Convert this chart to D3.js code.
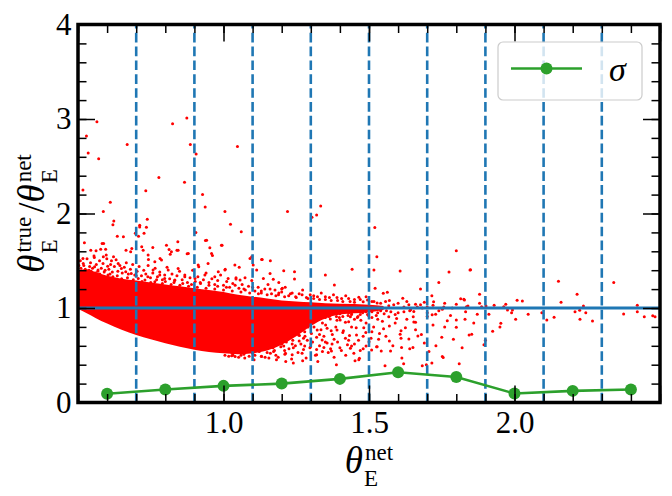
<!DOCTYPE html>
<html><head><meta charset="utf-8">
<script src="https://cdn.jsdelivr.net/npm/d3@7"></script>
<style>body{margin:0;background:#fff}</style>
</head><body>
<svg id="c" width="672" height="496"></svg>
<script>
// ---------------- data ----------------
const xTickValues = [1.0, 1.5, 2.0];
const xTickLabels = ["1.0", "1.5", "2.0"];
const yTickValues = [0, 1, 2, 3, 4];
const yTickLabels = ["0", "1", "2", "3", "4"];
const binEdges = [0.7, 0.9, 1.1, 1.3, 1.5, 1.7, 1.9, 2.1, 2.3];
const sigmaX = [0.6, 0.8, 1.0, 1.2, 1.4, 1.6, 1.8, 2.0, 2.2, 2.4];
const sigmaY = [0.093, 0.137, 0.176, 0.2, 0.25, 0.32, 0.27, 0.095, 0.123, 0.137];
// dense core of the scatter (where the points merge into a solid mass)
const coreTheta = [0.5, 0.53, 0.56, 0.6, 0.65, 0.7, 0.75, 0.8, 0.85, 0.9, 0.95, 1.0, 1.05, 1.1, 1.15, 1.2, 1.25, 1.3, 1.35, 1.4, 1.5, 1.55];
const coreUpper = [1.4, 1.41, 1.38, 1.34, 1.31, 1.29, 1.27, 1.25, 1.23, 1.21, 1.19, 1.17, 1.14, 1.12, 1.1, 1.08, 1.07, 1.06, 1.05, 1.045, 1.035, 1.02];
const coreLower = [0.99, 0.945, 0.895, 0.835, 0.77, 0.715, 0.668, 0.627, 0.59, 0.558, 0.535, 0.52, 0.51, 0.52, 0.55, 0.61, 0.7, 0.81, 0.89, 0.93, 0.955, 0.98];
// individual scattered points [theta_net, theta_true/theta_net]
const scatterPts = [
[0.565,2.97],[0.825,2.95],[0.874,3.01],[0.529,2.82],[0.669,2.73],[0.886,2.73],[1.048,2.71],[0.535,2.64],[0.906,2.63],[0.571,2.58],
[0.778,2.38],[0.866,2.33],[0.517,2.25],[0.733,2.24],[0.928,2.2],[0.611,2.12],[0.937,2.07],[0.587,2.02],[1.005,2.02],[1.22,2.02],
[1.334,2.08],[1.304,1.96],[1.32,1.985],[0.738,1.94],[0.623,1.92],[0.62,1.88],[0.712,1.876],[0.712,1.858],[0.735,1.855],[1.024,1.887],
[0.697,1.79],[0.708,1.76],[0.727,1.79],[1.061,1.806],[0.905,1.8],[0.522,1.69],[0.635,1.76],[0.656,1.753],[0.583,1.683],[0.588,1.683],
[0.578,1.623],[0.595,1.623],[0.544,1.612],[0.562,1.605],[0.685,1.63],[0.681,1.594],[0.665,1.612],[0.719,1.647],[0.757,1.641],[0.804,1.665],
[0.843,1.7],[0.813,1.62],[0.84,1.612],[0.938,1.715],[0.953,1.637],[0.995,1.665],[0.875,1.573],[0.962,1.556],[1.091,1.525],[1.133,1.514],
[1.161,1.5],[0.742,1.514],[0.782,1.525],[0.817,1.57],[0.622,1.542],[0.556,1.535],[0.587,1.542],[1.442,1.409],[1.35,1.348],[1.381,1.243],
[1.207,1.394],[1.244,1.383],[1.054,1.43],[1.006,1.409],[0.915,1.436],[1.102,1.454],[1.171,1.303],[1.202,1.208],[1.074,1.32],[1.043,1.306],
[1.52,1.852],[1.80,1.605],[1.527,1.542],[1.244,1.306],[1.517,1.401],[1.607,1.391],[1.775,1.38],[1.847,1.401],[1.19,1.271],[1.2,1.2],
[1.74,1.271],[1.677,1.2],[1.521,1.208],[1.549,1.155],[1.563,1.166],[1.716,1.13],[1.616,1.102],[1.815,1.098],[1.828,1.084],[1.722,1.067],
[0.597,1.56],[0.615,1.5],[0.638,1.472],[0.649,1.419],[0.569,1.401],[0.534,1.366],[0.664,1.383],[0.603,1.348],[0.683,1.366],[0.724,1.612],
[0.741,1.56],[0.764,1.489],[0.787,1.507],[0.821,1.594],[0.844,1.612],[0.758,1.401],[0.781,1.348],[0.81,1.401],[0.844,1.419],[0.879,1.578],
[0.913,1.454],[0.942,1.718],[0.959,1.578],[0.993,1.665],[0.947,1.472],[0.982,1.383],[1.005,1.401],[1.039,1.454],[1.097,1.542],[1.131,1.514],
[1.16,1.366],[1.114,1.401],[1.137,1.313],[1.057,1.296],[1.016,1.313],[0.97,1.331],[0.936,1.348],[0.902,1.313],[0.867,1.331],[0.833,1.296],
[0.798,1.313],[0.764,1.278],[0.73,1.296],[0.707,1.313],[0.626,1.296],[0.586,1.313],[0.552,1.296],[0.523,1.331],[0.506,1.313],[0.517,1.525],
[0.557,1.436],[0.602,1.443],
[0.51,1.42],[0.52,1.45],[0.54,1.44],[0.545,1.39],[0.56,1.37],[0.575,1.36],[0.59,1.38],[0.61,1.36],[0.62,1.33],[0.635,1.34],
[0.65,1.31],[0.67,1.32],[0.69,1.3],[0.7,1.34],[0.72,1.28],[0.74,1.33],[0.75,1.27],[0.77,1.3],[0.79,1.26],[0.8,1.28],
[0.82,1.25],[0.83,1.27],[0.85,1.24],[0.86,1.26],[0.88,1.23],[0.89,1.25],[0.91,1.22],[0.92,1.27],[0.94,1.21],[0.95,1.24],
[0.97,1.2],[0.98,1.23],[1.0,1.19],[1.01,1.22],[1.03,1.18],[1.04,1.24],[1.06,1.17],[1.07,1.2],[1.09,1.16],[1.1,1.22],
[1.12,1.15],[1.13,1.18],[1.15,1.14],[1.16,1.2],[1.18,1.13],[1.19,1.16],[1.21,1.12],[1.23,1.15],[1.25,1.11],[1.27,1.14],
[1.29,1.1],[1.31,1.13],[1.33,1.09],[1.35,1.12],[1.37,1.08],[1.39,1.11],[1.41,1.07],[1.43,1.1],[1.45,1.06],[1.47,1.09],
[1.49,1.12],[1.51,1.07],[1.54,1.05],[1.57,1.08],[1.6,1.05],[1.63,1.07],[1.66,1.04],[1.69,1.06],[1.72,1.03],[1.76,1.05],
[1.8,1.04],[1.84,1.02],[1.88,1.05],[1.93,1.03],[1.97,1.04],
[0.503,1.45],[0.508,1.5],[0.512,1.39],[0.518,1.47],[0.525,1.41],[0.531,1.52],[0.538,1.4],[0.543,1.48],[0.55,1.42],[0.555,1.55],
[0.563,1.46],[0.568,1.39],[0.574,1.5],[0.58,1.42],[0.586,1.47],[0.593,1.4],[0.599,1.52],[0.606,1.41],[0.612,1.46],[0.618,1.38],
[0.625,1.44],[0.631,1.51],[0.637,1.39],[0.644,1.45],[0.652,1.37],[0.659,1.43],[0.666,1.48],[0.673,1.36],[0.68,1.41],[0.688,1.46],
[0.695,1.35],[0.703,1.39],[0.71,1.44],[0.718,1.34],[0.726,1.4],[0.733,1.36],[0.741,1.45],[0.749,1.32],[0.757,1.37],[0.765,1.42],
[0.773,1.33],[0.781,1.38],[0.79,1.3],[0.798,1.35],[0.806,1.43],[0.815,1.31],[0.823,1.36],[0.832,1.29],[0.84,1.34],[0.849,1.39],
[0.858,1.3],[0.867,1.35],[0.876,1.27],[0.885,1.32],[0.894,1.4],[0.903,1.28],[0.912,1.33],[0.921,1.26],[0.931,1.3],[0.94,1.37],
[0.95,1.27],[0.96,1.31],[0.97,1.25],[0.98,1.29],[0.99,1.35],[1.0,1.24],[1.011,1.28],[1.021,1.22],[1.032,1.26],[1.043,1.32],
[1.053,1.21],[1.064,1.25],[1.075,1.19],[1.086,1.23],[1.097,1.29],[1.108,1.18],[1.119,1.22],[1.13,1.16],[1.142,1.2],[1.153,1.25],
[1.165,1.15],[1.177,1.19],[1.189,1.14],[1.2,1.17],[1.212,1.22],[1.224,1.13],[1.236,1.16],[1.248,1.12],[1.26,1.15],[1.272,1.19],
[1.285,1.11],[1.298,1.14],[1.31,1.1],[1.323,1.12],[1.336,1.16],[1.35,1.09],[1.364,1.11],[1.378,1.14],[1.392,1.08],[1.406,1.1],
[1.42,1.13],[1.435,1.07],[1.45,1.09],[1.465,1.115],[1.48,1.065],[1.495,1.085],
[1.517,1.069],[1.528,1.052],[1.557,1.069],[1.568,1.023],[1.585,1.034],[1.62,1.01],[1.637,1.034],[1.643,0.981],[1.654,0.963],[1.666,1.01],
[1.677,1.034],[1.683,0.999],[1.7,1.01],[1.717,0.928],[1.729,0.935],[1.752,0.988],[1.757,1.01],[1.786,0.999],
[1.8,0.873],[1.8,0.796],[1.769,0.866],[1.844,0.715],[1.637,0.673],[1.668,0.704],[1.607,0.722],[1.568,0.908],[1.652,0.908],[1.654,0.852],
[1.533,0.67],[1.542,0.546],[1.574,0.546],[1.612,0.581],[1.651,0.581],[1.706,0.539],[1.752,0.486],[1.509,0.556],[1.528,0.591],[1.5,0.644],
[1.49,0.599],[1.467,0.469],[1.44,0.599],[1.436,0.574],[1.482,0.792],[1.457,0.715],[1.419,0.68],[1.373,0.62],[1.371,0.546],[1.339,0.662],
[1.345,0.581],[1.32,0.504],[1.299,0.591],[1.279,0.599],[1.275,0.68],[1.236,0.62],[1.207,0.599],[1.213,0.522],[1.236,0.504],[1.172,0.539],
[1.322,0.768],[1.356,0.786],[1.39,0.768],[1.43,0.855],[1.436,0.908],[1.401,0.873],[1.367,0.884],[1.339,0.908],[1.31,0.873],[1.287,0.908],
[1.273,0.786],[1.247,0.803],[1.23,0.838],[1.195,0.768],[1.178,0.82],[1.167,0.715],[1.218,0.715],[1.258,0.715],
[1.028,0.494],[1.04,0.487],[1.073,0.47],[1.105,0.452],[1.131,0.487],[1.156,0.47],[1.182,0.452],[1.214,0.434],[1.24,0.417],[1.272,0.441],
[1.324,0.434],[1.388,0.399],[1.452,0.441],[1.465,0.452],[1.555,0.388],[1.613,0.47],[1.619,0.41],[1.683,0.388],[1.697,0.399],[1.716,0.417],
[1.755,0.476],[1.81,0.41],
[1.02,0.6],[1.03,0.52],[1.04,0.66],[1.05,0.58],[1.06,0.5],[1.07,0.63],[1.08,0.55],[1.09,0.7],[1.1,0.52],[1.11,0.64],
[1.11,0.57],[1.12,0.75],[1.13,0.49],[1.13,0.68],[1.14,0.6],[1.15,0.53],[1.15,0.74],[1.16,0.64],[1.17,0.58],[1.18,0.5],
[1.18,0.7],[1.19,0.82],[1.2,0.62],[1.21,0.76],[1.21,0.55],[1.22,0.68],[1.23,0.86],[1.24,0.58],[1.25,0.74],[1.26,0.65],
[1.26,0.84],[1.27,0.52],[1.28,0.7],[1.29,0.8],[1.3,0.62],[1.31,0.9],[1.32,0.56],[1.33,0.72],[1.34,0.84],[1.35,0.64],
[1.36,0.53],[1.37,0.76],[1.38,0.67],[1.39,0.87],[1.4,0.58],[1.41,0.74],[1.42,0.5],[1.43,0.66],[1.44,0.8],[1.45,0.62],
[1.46,0.9],[1.47,0.55],[1.48,0.7],[1.49,0.84],[1.51,0.75],[1.53,0.88],[1.55,0.78],[1.57,0.65],[1.59,0.84],[1.61,0.76],
[1.63,0.88],[1.66,0.77],[1.69,0.63],[1.72,0.82],[1.75,0.69],[1.78,0.92],[1.82,0.58],[1.86,0.84],[1.9,0.66],[1.95,0.8],
[1.005,0.5],[1.012,0.55],[1.018,0.49],[1.025,0.57],[1.033,0.5],[1.038,0.54],[1.045,0.61],[1.052,0.48],[1.058,0.53],[1.064,0.59],
[1.07,0.51],[1.076,0.56],[1.082,0.65],[1.088,0.49],[1.094,0.6],[1.099,0.55],[1.104,0.67],[1.108,0.5],[1.115,0.59],[1.119,0.71],
[1.123,0.54],[1.128,0.63],[1.134,0.57],[1.138,0.72],[1.143,0.48],[1.147,0.66],[1.152,0.6],[1.157,0.77],[1.161,0.52],[1.166,0.69],
[1.171,0.62],[1.175,0.55],[1.179,0.79],[1.184,0.66],[1.188,0.48],[1.193,0.73],[1.197,0.59],[1.202,0.69],[1.206,0.83],[1.211,0.51],
[1.216,0.64],[1.221,0.78],[1.225,0.57],[1.229,0.72],[1.234,0.46],[1.238,0.66],[1.243,0.86],[1.247,0.6],[1.252,0.79],[1.256,0.53],
[1.261,0.71],[1.266,0.62],[1.27,0.88],[1.275,0.56],[1.279,0.75],[1.284,0.47],[1.288,0.66],[1.293,0.85],[1.297,0.58],[1.302,0.73],
[1.306,0.64],[1.311,0.8],[1.316,0.5],[1.32,0.69],[1.325,0.89],[1.33,0.6],[1.335,0.77],[1.34,0.54],[1.345,0.7],[1.351,0.82],
[1.356,0.63],[1.362,0.91],[1.368,0.57],[1.374,0.72],[1.38,0.48],[1.386,0.8],[1.392,0.64],[1.398,0.9],[1.405,0.55],[1.412,0.76],
[1.419,0.85],[1.426,0.61],[1.433,0.71],[1.44,0.93],[1.448,0.52],[1.456,0.79],[1.464,0.66],[1.472,0.87],[1.48,0.57],[1.489,0.74],
[1.498,0.92],[1.507,0.68],[1.516,0.8],[1.526,0.59],[1.536,0.73],[1.546,0.86],[1.558,0.7],[1.57,0.81],[1.582,0.6],[1.595,0.89],
[1.61,0.68],[1.625,0.79],[1.64,0.57],[1.66,0.85],[1.68,0.72],[1.7,0.91],[1.73,0.6],[1.76,0.8],[1.79,0.67],[1.83,0.88],
[1.31,0.93],[1.33,0.96],[1.35,0.9],[1.37,0.94],[1.39,0.97],[1.41,0.91],[1.43,0.95],[1.45,0.88],[1.47,0.93],[1.49,0.96],
[1.51,0.9],[1.53,0.95],[1.56,0.97],[1.59,0.93],[1.62,0.96],
[1.305,0.91],[1.318,0.95],[1.328,0.92],[1.342,0.94],[1.355,0.96],[1.366,0.92],[1.378,0.95],[1.388,0.91],[1.4,0.94],[1.415,0.96],
[1.428,0.92],[1.44,0.95],[1.452,0.97],[1.462,0.91],[1.478,0.95],[1.495,0.93],[1.51,0.96],[1.525,0.92],[1.54,0.97],[1.552,0.94],
[1.575,0.96],[1.6,0.95],[1.64,0.97],[1.7,0.95],[1.74,0.97],
[1.849,1.404],[2.151,1.282],[2.341,1.271],[1.88,1.145],[1.826,1.092],[2.009,1.081],[2.027,1.074],[2.16,1.06],[2.215,1.145],[1.835,1.014],
[1.887,1.014],[1.902,1.021],[1.963,1.014],[2.237,1.021],[2.422,1.028],[1.832,0.961],[1.872,0.933],[1.912,0.933],[1.976,0.979],[1.993,0.979],
[1.99,0.951],[2.047,0.933],[2.094,0.951],[2.111,0.873],[2.136,0.902],[2.208,0.961],[2.224,0.976],[2.245,0.951],[2.225,0.881],[2.268,0.863],
[2.375,0.937],[2.422,0.961],[2.446,0.908],[2.475,0.919],[2.483,0.908],[2.004,0.881],[1.953,0.838],[1.925,0.754],[1.853,0.722],[1.895,0.612]
];

// ---------------- layout ----------------
const L = 78, R = 660, T = 24.5, B = 402.5;
const serif = "'Liberation Serif','DejaVu Serif',serif";
const svg = d3.select("#c");
const x = d3.scaleLinear().domain([0.5, 2.5]).range([L, R]);
const y = d3.scaleLinear().domain([0, 4]).range([B, T]);

svg.append("defs").append("clipPath").attr("id", "clip")
  .append("rect").attr("x", L).attr("y", T).attr("width", R - L).attr("height", B - T);
const plot = svg.append("g").attr("clip-path", "url(#clip)");

// core mass
const core = coreTheta.map((t, i) => [t, coreUpper[i], coreLower[i]]);
plot.append("path").datum(core)
  .attr("d", d3.area().x(d => x(d[0])).y0(d => y(d[2])).y1(d => y(d[1])).curve(d3.curveMonotoneX))
  .attr("fill", "#ff0000");
// points
plot.append("g").selectAll("circle").data(scatterPts).join("circle")
  .attr("cx", d => x(d[0])).attr("cy", d => y(d[1])).attr("r", 1.5).attr("fill", "#ff0000");

// y = 1 line
plot.append("line").attr("x1", x(0.5)).attr("x2", x(2.5)).attr("y1", y(1)).attr("y2", y(1))
  .attr("stroke", "#1f77b4").attr("stroke-width", 2.8);
// bin edges
plot.append("g").selectAll("path").data(binEdges).join("path")
  .attr("d", d => `M${x(d)},${y(0)}L${x(d)},${y(4)}`)
  .attr("stroke", "#1f77b4").attr("stroke-width", 2.6).attr("fill", "none")
  .attr("stroke-dasharray", "9.67,4.18");

// sigma
const sig = sigmaX.map((v, i) => [v, sigmaY[i]]);
plot.append("path").datum(sig).attr("d", d3.line().x(d => x(d[0])).y(d => y(d[1])))
  .attr("fill", "none").attr("stroke", "#2ca02c").attr("stroke-width", 2.6);
plot.append("g").selectAll("circle").data(sig).join("circle")
  .attr("cx", d => x(d[0])).attr("cy", d => y(d[1])).attr("r", 6).attr("fill", "#2ca02c");

// ---------------- axes ----------------
const minorX = d3.range(0.5, 2.5001, 0.1).map(v => +v.toFixed(2));
const minorY = d3.range(0, 4.0001, 0.2).map(v => +v.toFixed(2));
const majorX = [0.5, ...xTickValues, 2.5];
function styleAxis(g) {
  g.select(".domain").remove();
  g.selectAll(".tick line").attr("stroke", "#000").attr("stroke-width", 1.5);
  g.selectAll("text").attr("font-family", serif).attr("font-size", 31).attr("fill", "#000");
}
const xfmt = d => { const i = xTickValues.indexOf(d); return i >= 0 ? xTickLabels[i] : ""; };
const yfmt = d => { const i = yTickValues.indexOf(d); return i >= 0 ? yTickLabels[i] : ""; };
svg.append("g").attr("transform", `translate(0,${B})`).call(d3.axisBottom(x).tickValues(minorX).tickSize(-8.5).tickFormat("")).call(styleAxis);
svg.append("g").attr("transform", `translate(0,${T})`).call(d3.axisTop(x).tickValues(minorX).tickSize(-8.5).tickFormat("")).call(styleAxis);
svg.append("g").attr("transform", `translate(${L},0)`).call(d3.axisLeft(y).tickValues(minorY).tickSize(-8.5).tickFormat("")).call(styleAxis);
svg.append("g").attr("transform", `translate(${R},0)`).call(d3.axisRight(y).tickValues(minorY).tickSize(-8.5).tickFormat("")).call(styleAxis);
svg.append("g").attr("transform", `translate(0,${B})`).call(d3.axisBottom(x).tickValues(majorX).tickSize(-17).tickPadding(8).tickFormat(xfmt)).call(styleAxis);
svg.append("g").attr("transform", `translate(0,${T})`).call(d3.axisTop(x).tickValues(majorX).tickSize(-17).tickFormat("")).call(styleAxis);
svg.append("g").attr("transform", `translate(${L},0)`).call(d3.axisLeft(y).tickValues(yTickValues).tickSize(-17).tickPadding(6.5).tickFormat(yfmt)).call(styleAxis);
svg.append("g").attr("transform", `translate(${R},0)`).call(d3.axisRight(y).tickValues(yTickValues).tickSize(-17).tickFormat("")).call(styleAxis);

// frame
svg.append("rect").attr("x", L).attr("y", T).attr("width", R - L).attr("height", B - T)
  .attr("fill", "none").attr("stroke", "#000").attr("stroke-width", 3.5);

// ---------------- math labels ----------------
function mathLabel(g, tokens) {
  const big = 37, small = 23;
  let cx = 0;
  tokens.forEach(tk => {
    if (tk.base) {
      const t = g.append("text").attr("x", cx).attr("y", 0).attr("font-family", serif)
        .attr("font-style", "italic").attr("font-size", big).text(tk.base);
      cx += t.node().getComputedTextLength() + 1;
      const s1 = g.append("text").attr("x", cx + 1).attr("y", -13.5).attr("font-family", serif)
        .attr("font-size", small).text(tk.sup);
      const s2 = g.append("text").attr("x", cx).attr("y", 12.5).attr("font-family", serif)
        .attr("font-size", small).text(tk.sub);
      cx += Math.max(s1.node().getComputedTextLength() + 1, s2.node().getComputedTextLength()) + (tk.gap || 0);
    } else {
      const t = g.append("text").attr("x", cx).attr("y", 0).attr("font-family", serif)
        .attr("font-size", big).text(tk.text);
      cx += t.node().getComputedTextLength();
    }
  });
  return cx;
}
const xl = svg.append("g");
const xw = mathLabel(xl, [{ base: "θ", sub: "E", sup: "net" }]);
xl.attr("transform", `translate(${(L + R) / 2 - xw / 2},473)`);
const yl0 = svg.append("g");
const yl = yl0.append("g");
const yw = mathLabel(yl, [{ base: "θ", sub: "E", sup: "true", gap: 4 }, { text: "/" }, { base: "θ", sub: "E", sup: "net" }]);
yl.attr("transform", `translate(${-yw / 2},0)`);
yl0.attr("transform", `translate(44,${(T + B) / 2}) rotate(-90)`);

// ---------------- legend ----------------
const lg = svg.append("g");
lg.append("rect").attr("x", 498).attr("y", 42).attr("width", 144).attr("height", 58).attr("rx", 5)
  .attr("fill", "#fff").attr("fill-opacity", 0.8).attr("stroke", "#cccccc").attr("stroke-width", 1.2);
lg.append("line").attr("x1", 511).attr("x2", 582).attr("y1", 68.5).attr("y2", 68.5)
  .attr("stroke", "#2ca02c").attr("stroke-width", 2.6);
lg.append("circle").attr("cx", 546.5).attr("cy", 68.5).attr("r", 6).attr("fill", "#2ca02c");
lg.append("text").attr("x", 609).attr("y", 81).attr("font-family", serif).attr("font-style", "italic")
  .attr("font-size", 34).text("σ");
</script>
</body></html>
